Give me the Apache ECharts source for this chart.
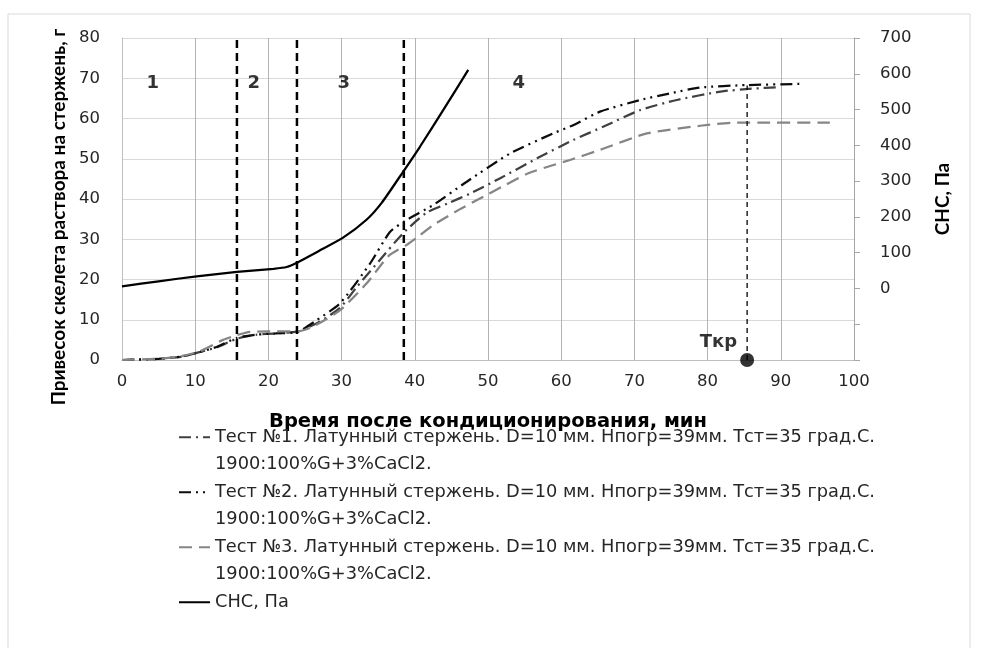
<!DOCTYPE html>
<html><head><meta charset="utf-8">
<script src="https://cdn.jsdelivr.net/npm/echarts@6/dist/echarts.min.js"></script>
<style>html,body{margin:0;padding:0;background:#fff}#c{width:982px;height:648px}</style>
</head><body><div id="c"></div>
<script>
// ---- data ----
const seriesNames = [
  'Тест №1. Латунный стержень. D=10 мм. Нпогр=39мм. Тст=35 град.С.',
  'Тест №2. Латунный стержень. D=10 мм. Нпогр=39мм. Тст=35 град.С.',
  'Тест №3. Латунный стержень. D=10 мм. Нпогр=39мм. Тст=35 град.С.',
  'СНС, Па'
];
const legendSub = '1900:100%G+3%CaCl2.';

const test1X = [0, 5, 8, 10.7, 13, 15.7, 18.4, 21, 24, 27, 29.8, 32.1, 35.2, 38.4, 41.6, 44.5, 47.5, 51.6, 56.7, 61.7, 65.8, 70.8, 75.8, 81.8, 86, 89.9];
const test1Y = [0, 0.3, 0.8, 2.0, 3.2, 5.3, 6.3, 6.6, 7.1, 9.5, 13.0, 18.2, 24.8, 31.5, 36.6, 38.9, 41.3, 45.1, 50.1, 54.7, 58.0, 62.1, 64.6, 66.7, 67.4, 67.8];

const test2X = [0, 5, 8, 10.7, 13, 15.7, 18.4, 21, 24, 26.6, 29.8, 33.9, 36.6, 38.7, 42.5, 47.1, 53, 58.9, 61.7, 65.3, 70.8, 75, 79, 85.3, 92.6];
const test2Y = [0, 0.3, 0.8, 2.0, 3.3, 5.5, 6.3, 6.6, 7.0, 9.9, 14.1, 24.0, 31.8, 34.6, 38.5, 44.3, 51.3, 56.3, 58.4, 61.7, 64.6, 66.3, 67.7, 68.3, 68.6];

const test3X = [0, 5, 8, 10.7, 13.8, 15.7, 17.5, 20, 24, 26, 29.8, 33.4, 36.5, 38.9, 40.7, 42.5, 46, 49.4, 52.5, 55.5, 58.5, 61.2, 65.3, 71.7, 79, 84, 88, 96.7];
const test3Y = [0, 0.3, 0.9, 2.2, 5.0, 6.2, 7.0, 7.1, 7.1, 8.2, 12.4, 19.0, 26.0, 28.6, 31.0, 33.5, 37.3, 40.6, 43.6, 46.4, 48.2, 49.7, 52.2, 56.3, 58.2, 59.0, 59.0, 59.0];

const snsX = [0, 5, 10.2, 15.7, 20.7, 22.5, 23.9, 27, 30.2, 33.4, 35.5, 38.4, 40.7, 43.9, 47.3];
const snsY = [6, 20, 34, 46, 55, 60, 72, 106, 142, 192, 240, 326, 396, 499, 611];

const zoneBounds = [15.7, 23.9, 38.5];
const zoneLabels = ['1', '2', '3', '4'];
const zoneLabelX = [4.2, 18.0, 30.3, 54.2];
const zoneLabelY = 68.8;

const tkrX = 85.4;
const tkrTopY = 68.2;
const tkrLabel = 'Ткр';

const xTickMin = 0, xTickMax = 100, xTickStep = 10;
const yLeftMin = 0, yLeftMax = 80, yLeftStep = 10;
const yRightMin = -200, yRightMax = 700, yRightStep = 100;

// ---- chart ----
const FONT_V = 'Lato, "Open Sans", sans-serif';        // rotated titles
const FONT_H = '"DejaVu Sans", "Open Sans", sans-serif'; // horizontal texts
const zip = (xs, ys) => xs.map((x, i) => [x, ys[i]]);
const chart = echarts.init(document.getElementById('c'), null, {renderer: 'canvas'});

const lineCommon = {
  type: 'line', symbol: 'none', showSymbol: false, smooth: 0.2,
  silent: true, z: 3
};

const series = [
  Object.assign({}, lineCommon, {
    name: seriesNames[0], yAxisIndex: 0, data: zip(test1X, test1Y),
    lineStyle: {color: '#404040', width: 2.25, type: [12, 5, 2, 5]}, itemStyle: {color: '#404040'}
  }),
  Object.assign({}, lineCommon, {
    name: seriesNames[1], yAxisIndex: 0, data: zip(test2X, test2Y),
    lineStyle: {color: '#0d0d0d', width: 2.25, type: [12, 5, 2, 5, 2, 5]}, itemStyle: {color: '#0d0d0d'}
  }),
  Object.assign({}, lineCommon, {
    name: seriesNames[2], yAxisIndex: 0, data: zip(test3X, test3Y),
    lineStyle: {color: '#858585', width: 2.25, type: [13, 7]}, itemStyle: {color: '#858585'}
  }),
  Object.assign({}, lineCommon, {
    name: seriesNames[3], yAxisIndex: 1, data: zip(snsX, snsY),
    lineStyle: {color: '#000', width: 2.25, type: 'solid'}, itemStyle: {color: '#000'}
  })
];

zoneBounds.forEach((b, i) => {
  series.push({
    type: 'line', name: 'zone' + i, yAxisIndex: 0, symbol: 'none', silent: true, z: 4,
    data: [[b, yLeftMin], [b, yLeftMax]],
    lineStyle: {color: '#000', width: 2.5, type: [8, 5]}
  });
});

series.push({
  type: 'line', name: 'tkrLine', yAxisIndex: 0, symbol: 'none', silent: true, z: 4,
  data: [[tkrX, 0], [tkrX, tkrTopY]],
  lineStyle: {color: '#000', width: 1.3, type: [5, 4]}
});
series.push({
  type: 'scatter', name: 'tkrPoint', yAxisIndex: 0, silent: true, z: 5,
  symbolSize: 14, itemStyle: {color: '#000'},
  data: [[tkrX, 0]],
  label: {show: true, formatter: tkrLabel, position: 'left', distance: 3, offset: [0, -18],
          fontSize: 18, fontWeight: 'bold', color: '#000', fontFamily: FONT_H}
});
series.push({
  type: 'scatter', name: 'zoneLabels', yAxisIndex: 0, silent: true, z: 5,
  symbolSize: 0, itemStyle: {color: 'transparent'},
  data: zoneLabelX.map((x, i) => ({value: [x, zoneLabelY], name: zoneLabels[i]})),
  label: {show: true, position: 'inside', formatter: p => p.name,
          fontSize: 18, fontWeight: 'bold', color: '#000', fontFamily: FONT_H}
});

const option = {
  animation: false,
  backgroundColor: '#fff',
  textStyle: {fontFamily: FONT_H},
  graphic: [{
    type: 'rect', shape: {x: 8, y: 14, width: 962, height: 660},
    style: {fill: 'none', stroke: '#d9d9d9', lineWidth: 1}, silent: true, z: -1
  }],
  grid: {left: 122, right: 128, top: 38, bottom: 288, containLabel: false},
  legend: {
    data: seriesNames,
    orient: 'vertical', left: 178, top: 396, padding: 0,
    itemGap: -27.5, itemWidth: 31, itemHeight: 14,
    selectedMode: false,
    itemStyle: {opacity: 0, color: 'transparent', borderWidth: 0},
    formatter: name => ' \n' + name + '\n' + (name === seriesNames[3] ? ' ' : legendSub),
    textStyle: {fontSize: 17.8, color: '#262626', fontFamily: FONT_H, lineHeight: 27.5}
  },
  xAxis: {
    type: 'value', min: xTickMin, max: xTickMax, interval: xTickStep,
    name: 'Время после кондиционирования, мин', nameLocation: 'middle', nameGap: 52,
    nameTextStyle: {fontSize: 19.5, fontWeight: 'bold', color: '#000', fontFamily: FONT_H},
    axisLine: {lineStyle: {color: '#bfbfbf', width: 1}},
    axisTick: {show: false},
    splitLine: {show: true, lineStyle: {color: '#b3b3b3', width: 1}},
    axisLabel: {fontSize: 16.5, color: '#262626', margin: 13, fontFamily: FONT_H}
  },
  yAxis: [{
    type: 'value', min: yLeftMin, max: yLeftMax, interval: yLeftStep, position: 'left',
    name: 'Привесок скелета раствора на стержень, г', nameLocation: 'middle', nameGap: 50,
    nameRotate: 90,
    nameTextStyle: {fontSize: 19, fontWeight: 'bold', color: '#000', fontFamily: FONT_V,
                    padding: [0, 36, 0, 0]},
    axisLine: {show: true, lineStyle: {color: '#bfbfbf', width: 1}},
    axisTick: {show: false},
    splitLine: {show: true, lineStyle: {color: '#d9d9d9', width: 1}},
    axisLabel: {fontSize: 16.5, color: '#262626', margin: 22, fontFamily: FONT_H}
  }, {
    type: 'value', min: yRightMin, max: yRightMax, interval: yRightStep, position: 'right',
    name: 'СНС, Па', nameLocation: 'middle', nameGap: 79, nameRotate: 90,
    nameTextStyle: {fontSize: 19, fontWeight: 'bold', color: '#000', fontFamily: FONT_V},
    axisLine: {show: true, lineStyle: {color: '#a6a6a6', width: 1}},
    axisTick: {show: true, length: 6, inside: false, lineStyle: {color: '#a6a6a6'}},
    splitLine: {show: false},
    axisLabel: {fontSize: 16.5, color: '#262626', margin: 26, fontFamily: FONT_H,
                formatter: v => (v < 0 ? '' : String(v))}
  }],
  series: series
};
chart.setOption(option);
</script>
</body></html>
